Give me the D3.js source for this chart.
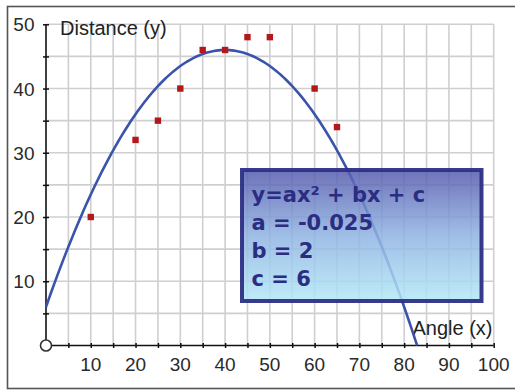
<!DOCTYPE html>
<html>
<head>
<meta charset="utf-8">
<script src="https://cdn.jsdelivr.net/npm/d3@7"></script>
<style>
  html, body { margin: 0; padding: 0; background: #fff; }
  svg { display: block; }
  text { font-family: "Liberation Sans", Arial, sans-serif; }
  text.eq { font-family: "DejaVu Sans", Verdana, sans-serif; font-weight: bold; }
</style>
</head>
<body>
<svg id="chart" width="515" height="390"></svg>
<script>
// Measured angle / distance pairs
const angles    = [10, 20, 25, 30, 35, 40, 45, 50, 60, 65];
const distances = [20, 32, 35, 40, 46, 46, 48, 48, 40, 34];

// Quadratic fit y = ax² + bx + c
const coefA = -0.025;
const coefB = 2;
const coefC = 6;

// Axis tick labels
const xTickLabels = [10, 20, 30, 40, 50, 60, 70, 80, 90, 100];
const yTickLabels = [10, 20, 30, 40, 50];
const gridStep = 5;

const svg = d3.select("#chart");
const x = d3.scaleLinear().domain([0, 100]).range([46, 493.7]);
const y = d3.scaleLinear().domain([0, 50]).range([345.5, 24.3]);

// outer frame
svg.append("rect")
  .attr("x", 7.5).attr("y", 6.5).attr("width", 520).attr("height", 382)
  .attr("fill", "#fff").attr("stroke", "#555").attr("stroke-width", 1.6);

// gradient for the equation panel
const defs = svg.append("defs");
const grad = defs.append("linearGradient").attr("id", "panelFill")
  .attr("x1", 0).attr("y1", 0).attr("x2", 0).attr("y2", 1);
grad.append("stop").attr("offset", "0%").attr("stop-color", "rgb(85,90,173)");
grad.append("stop").attr("offset", "50%").attr("stop-color", "rgb(143,179,226)");
grad.append("stop").attr("offset", "100%").attr("stop-color", "rgb(179,232,247)");

// grid
const gridVals = d3.range(gridStep, 100 + 0.1, gridStep);
const gridValsY = d3.range(gridStep, 50 + 0.1, gridStep);
const grid = svg.append("g").attr("stroke", "#cfcfd2").attr("stroke-width", 1.6);
grid.selectAll("line.v").data(gridVals).join("line")
  .attr("x1", d => x(d)).attr("x2", d => x(d))
  .attr("y1", y(0)).attr("y2", y(50));
grid.selectAll("line.h").data(gridValsY).join("line")
  .attr("y1", d => y(d)).attr("y2", d => y(d))
  .attr("x1", x(0)).attr("x2", x(100));

// axes
const axisG = svg.append("g");
const xAxis = d3.axisBottom(x).tickValues(d3.range(gridStep, 100 + 0.1, gridStep))
  .tickSize(3).tickFormat("");
const yAxis = d3.axisLeft(y).tickValues(d3.range(gridStep, 50 + 0.1, gridStep))
  .tickSize(3).tickFormat("");
const gx = axisG.append("g").attr("transform", `translate(0,${y(0)})`).call(xAxis);
const gy = axisG.append("g").attr("transform", `translate(${x(0)},0)`).call(yAxis);
[gx, gy].forEach(g => {
  g.select(".domain").remove();
  g.selectAll(".tick line").attr("stroke", "#111").attr("stroke-width", 1.5);
});
gx.selectAll(".tick line").attr("y1", -2.5).attr("y2", 2.5);
gy.selectAll(".tick line").attr("x1", -3).attr("x2", 3);
axisG.append("line").attr("x1", x(0)).attr("x2", x(100))
  .attr("y1", y(0)).attr("y2", y(0)).attr("stroke", "#111").attr("stroke-width", 1.6);
axisG.append("line").attr("x1", x(0)).attr("x2", x(0))
  .attr("y1", y(0)).attr("y2", y(50)).attr("stroke", "#111").attr("stroke-width", 1.6);

// tick labels
svg.append("g").selectAll("text").data(xTickLabels).join("text")
  .attr("x", d => x(d)).attr("y", 371)
  .attr("text-anchor", "middle").attr("font-size", 19).attr("fill", "#2a2a2a")
  .text(d => d);
svg.append("g").selectAll("text").data(yTickLabels).join("text")
  .attr("x", 34.5).attr("y", d => y(d) + 7)
  .attr("text-anchor", "end").attr("font-size", 19).attr("fill", "#2a2a2a")
  .text(d => d);

// axis titles
svg.append("text").attr("x", 60).attr("y", 34.5)
  .attr("font-size", 20).attr("fill", "#222").text("Distance (y)");
svg.append("text").attr("x", 492.5).attr("y", 334.5)
  .attr("text-anchor", "end").attr("font-size", 20).attr("fill", "#222").text("Angle (x)");

// origin marker
svg.append("circle").attr("cx", x(0)).attr("cy", y(0)).attr("r", 5.5)
  .attr("fill", "#fff").attr("stroke", "#333").attr("stroke-width", 1.6);

// fitted curve, drawn down to where it meets the x axis
const f = t => coefA * t * t + coefB * t + coefC;
const xEnd = (-coefB - Math.sqrt(coefB * coefB - 4 * coefA * coefC)) / (2 * coefA);
const curveX = d3.range(0, xEnd, 0.5).concat([xEnd]);
svg.append("path")
  .datum(curveX)
  .attr("fill", "none").attr("stroke", "#3a54ac").attr("stroke-width", 2.6)
  .attr("d", d3.line().x(d => x(d)).y(d => y(Math.max(0, f(d)))));

// data points
const pts = angles.map((a, i) => ({ a, d: distances[i] }));
svg.append("g").selectAll("rect").data(pts).join("rect")
  .attr("x", p => x(p.a) - 3.2).attr("y", p => y(p.d) - 3.2)
  .attr("width", 6.4).attr("height", 6.4).attr("fill", "#b3191c");

// equation panel
const panel = svg.append("g");
panel.append("rect")
  .attr("x", 242).attr("y", 170).attr("width", 239.5).attr("height", 131)
  .attr("fill", "url(#panelFill)").attr("fill-opacity", 0.85)
  .attr("stroke", "#2d2f86").attr("stroke-opacity", 0.95).attr("stroke-width", 4);
const lines = [
  "y=ax\u00B2 + bx + c",
  "a = " + coefA,
  "b = " + coefB,
  "c = " + coefC
];
panel.selectAll("text").data(lines).join("text")
  .attr("class", "eq")
  .attr("x", 251.5).attr("y", (d, i) => 201.5 + i * 28.2)
  .attr("font-size", 21).attr("fill", "#2b2d82")
  .text(d => d);
</script>
</body>
</html>
